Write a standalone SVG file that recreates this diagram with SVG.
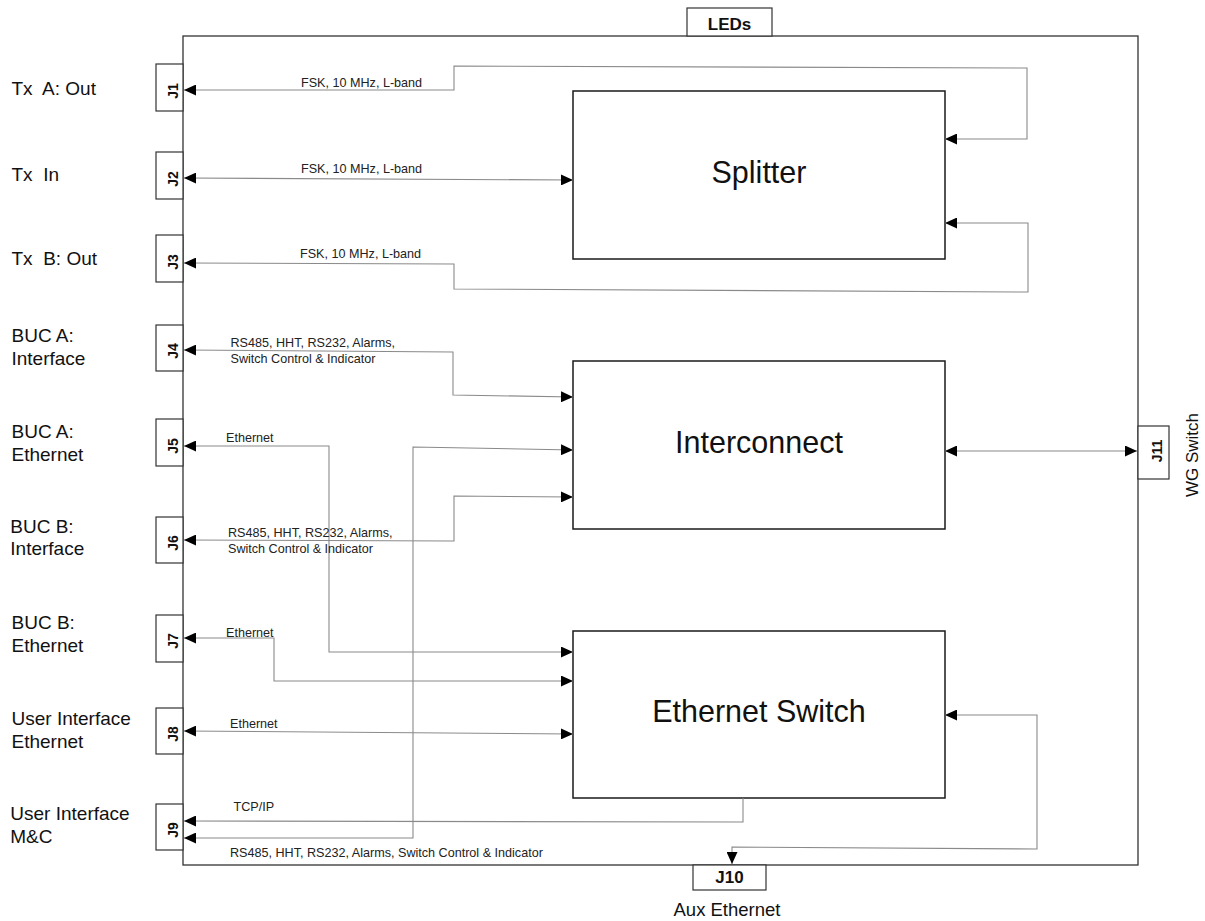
<svg xmlns="http://www.w3.org/2000/svg" width="1205" height="921" viewBox="0 0 1205 921">
<style>
.bg{fill:#fff}
.frame{fill:#fff;stroke:#333;stroke-width:1.3}
.block{fill:#fff;stroke:#1a1a1a;stroke-width:1.5}
.jack{fill:#fff;stroke:#333;stroke-width:1.2}
.title{font-family:"Liberation Sans",Arial,sans-serif;font-size:30.5px;fill:#111;text-anchor:middle}
.side{font-family:"Liberation Sans",Arial,sans-serif;font-size:19px;fill:#111;white-space:pre}
.jl{font-family:"Liberation Sans",Arial,sans-serif;font-size:14px;font-weight:bold;fill:#111;text-anchor:middle}
.jb{font-family:"Liberation Sans",Arial,sans-serif;font-size:17px;font-weight:bold;fill:#111;text-anchor:middle}
.sig{font-family:"Liberation Sans",Arial,sans-serif;font-size:12.6px;fill:#222}
.ext{font-family:"Liberation Sans",Arial,sans-serif;font-size:17px;fill:#111;text-anchor:middle}
.aux{font-family:"Liberation Sans",Arial,sans-serif;font-size:18.5px;fill:#111;text-anchor:middle}
.wire{fill:none;stroke:#8a8a8a;stroke-width:1.1}
.both{marker-start:url(#arr);marker-end:url(#arr)}
.end{marker-end:url(#arr)}
</style>
<defs>
<marker id="arr" markerUnits="userSpaceOnUse" markerWidth="12" markerHeight="11" refX="12" refY="5.5" orient="auto-start-reverse">
<path d="M0,0 L12,5.5 L0,11 Z" fill="#000"/>
</marker>
</defs>
<rect class="bg" x="0" y="0" width="1205" height="921"/>

<g id="enclosure">
<rect class="frame" x="183" y="36" width="955" height="829"/>
</g>

<g id="leds">
<rect class="jack" x="687" y="8" width="85" height="28"/>
<text class="jb" x="729.5" y="30">LEDs</text>
</g>

<g id="splitter">
<rect class="block" x="573" y="91" width="372" height="168"/>
<text class="title" x="759" y="183">Splitter</text>
</g>
<g id="interconnect">
<rect class="block" x="573" y="361" width="372" height="168"/>
<text class="title" x="759" y="453">Interconnect</text>
</g>
<g id="ethernet-switch">
<rect class="block" x="573" y="631" width="372" height="167"/>
<text class="title" x="759" y="722">Ethernet Switch</text>
</g>

<g id="J1">
<rect class="jack" x="156" y="64" width="27" height="47"/>
<text class="jl" transform="translate(178,91) rotate(-90)">J1</text>
<text class="side" x="11.5" y="95">Tx  A: Out</text>
</g>
<g id="J2">
<rect class="jack" x="156" y="152" width="27" height="47"/>
<text class="jl" transform="translate(178,179) rotate(-90)">J2</text>
<text class="side" x="11.5" y="181">Tx  In</text>
</g>
<g id="J3">
<rect class="jack" x="156" y="235" width="27" height="47"/>
<text class="jl" transform="translate(178,262) rotate(-90)">J3</text>
<text class="side" x="11.5" y="265">Tx  B: Out</text>
</g>
<g id="J4">
<rect class="jack" x="156" y="325" width="27" height="46"/>
<text class="jl" transform="translate(178,351) rotate(-90)">J4</text>
<text class="side" x="11.5" y="342">BUC A:</text>
<text class="side" x="11.5" y="365">Interface</text>
</g>
<g id="J5">
<rect class="jack" x="156" y="419" width="27" height="47"/>
<text class="jl" transform="translate(178,446) rotate(-90)">J5</text>
<text class="side" x="11.5" y="437.5">BUC A:</text>
<text class="side" x="11.5" y="461">Ethernet</text>
</g>
<g id="J6">
<rect class="jack" x="156" y="517" width="27" height="46"/>
<text class="jl" transform="translate(178,543) rotate(-90)">J6</text>
<text class="side" x="10.3" y="532.5">BUC B:</text>
<text class="side" x="10.3" y="555">Interface</text>
</g>
<g id="J7">
<rect class="jack" x="156" y="615" width="27" height="47"/>
<text class="jl" transform="translate(178,641) rotate(-90)">J7</text>
<text class="side" x="11.5" y="629">BUC B:</text>
<text class="side" x="11.5" y="652">Ethernet</text>
</g>
<g id="J8">
<rect class="jack" x="156" y="708" width="27" height="46"/>
<text class="jl" transform="translate(178,734) rotate(-90)">J8</text>
<text class="side" x="11.5" y="724.5">User Interface</text>
<text class="side" x="11.5" y="747.5">Ethernet</text>
</g>
<g id="J9">
<rect class="jack" x="156" y="804" width="27" height="46"/>
<text class="jl" transform="translate(178,830) rotate(-90)">J9</text>
<text class="side" x="10.3" y="819.5">User Interface</text>
<text class="side" x="10.3" y="843">M&amp;C</text>
</g>
<g id="J10">
<rect class="jack" x="693" y="865" width="73" height="25"/>
<text class="jb" x="729.5" y="883">J10</text>
<text class="aux" x="727" y="916">Aux Ethernet</text>
</g>
<g id="J11">
<rect class="jack" x="1138" y="426" width="31" height="53"/>
<text class="jl" transform="translate(1162,451) rotate(-90)">J11</text>
<text class="ext" transform="translate(1198,455) rotate(-90)">WG Switch</text>
</g>

<g id="connectors">
<polyline class="wire both" points="945,139 1027,139 1027,68 454,66 454,90 184,90"/>
<polyline class="wire both" points="184,178 573,180"/>
<polyline class="wire both" points="945,223 1028,223 1028,292 454,289 454,264 184,263"/>
<polyline class="wire both" points="184,350 453,352 453,395 573,397"/>
<polyline class="wire both" points="184,446 329,446 329,652 573,652"/>
<polyline class="wire both" points="184,540 454,541 454,496 573,497"/>
<polyline class="wire both" points="184,638 274,638 274,681 573,681"/>
<polyline class="wire both" points="184,731 573,734"/>
<polyline class="wire end" points="743,798 743,822 184,821"/>
<polyline class="wire both" points="184,838 413,838 413,447 573,450"/>
<polyline class="wire both" points="945,715 1037,715 1037,849 732,847 732,864"/>
<polyline class="wire both" points="945,451 1137,451"/>

<text class="sig" x="301" y="87">FSK, 10 MHz, L-band</text>
<text class="sig" x="301" y="173">FSK, 10 MHz, L-band</text>
<text class="sig" x="300" y="258">FSK, 10 MHz, L-band</text>
<text class="sig" x="230.5" y="346.5">RS485, HHT, RS232, Alarms,</text>
<text class="sig" x="230.5" y="362.5">Switch Control &amp; Indicator</text>
<text class="sig" x="226" y="441.5">Ethernet</text>
<text class="sig" x="228" y="536.5">RS485, HHT, RS232, Alarms,</text>
<text class="sig" x="228" y="552.5">Switch Control &amp; Indicator</text>
<text class="sig" x="226" y="636.5">Ethernet</text>
<text class="sig" x="230" y="727.5">Ethernet</text>
<text class="sig" x="233.5" y="810.5">TCP/IP</text>
<text class="sig" x="230" y="856.5">RS485, HHT, RS232, Alarms, Switch Control &amp; Indicator</text>
</g>
</svg>
